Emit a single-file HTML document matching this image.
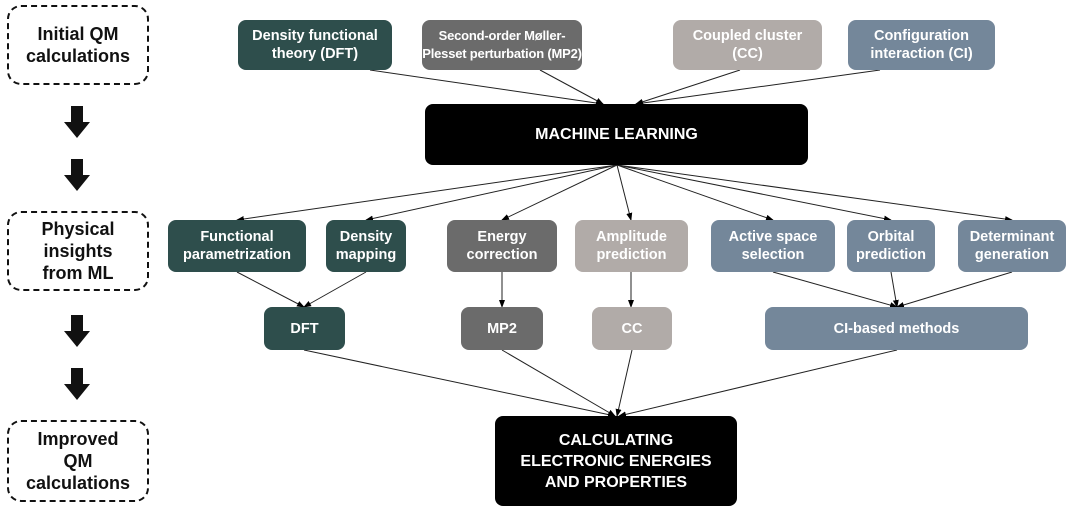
<!DOCTYPE html>
<html><head><meta charset="utf-8"><style>
body{margin:0;width:1080px;height:512px;background:#fff;position:relative;overflow:hidden;font-family:"Liberation Sans",Arial,sans-serif;font-weight:bold}
.b{position:absolute;border-radius:8px;color:#fff;display:flex;align-items:center;justify-content:center;text-align:center;font-size:14.5px;line-height:18px}
.t{background:#2e4e4c}.g{background:#6b6b6b}.l{background:#b1aba8}.s{background:#74879a}.k{background:#000;font-size:16px;line-height:21px}
.d{position:absolute;left:7px;width:138px;border:2.5px dashed #111;border-radius:14px;color:#111;font-size:18px;line-height:22px;display:flex;align-items:center;justify-content:center;text-align:center}
svg{position:absolute;left:0;top:0}
</style></head><body>
<svg width="1080" height="512">
<defs><marker id="a" markerWidth="8" markerHeight="8" refX="7" refY="4" orient="auto" markerUnits="userSpaceOnUse"><path d="M0,1 L8,4 L0,7z" fill="#000"/></marker></defs>
<g stroke="#222" stroke-width="1" fill="none" marker-end="url(#a)">
<line x1="370" y1="70" x2="603" y2="104"/><line x1="540" y1="70" x2="603" y2="104"/>
<line x1="740" y1="70" x2="636" y2="104"/><line x1="880" y1="70" x2="636" y2="104"/>
<line x1="617" y1="165" x2="237" y2="220"/><line x1="617" y1="165" x2="366" y2="220"/>
<line x1="617" y1="165" x2="502" y2="220"/><line x1="617" y1="165" x2="631" y2="220"/>
<line x1="617" y1="165" x2="773" y2="220"/><line x1="617" y1="165" x2="891" y2="220"/>
<line x1="617" y1="165" x2="1012" y2="220"/>
<line x1="237" y1="272" x2="304" y2="307"/><line x1="366" y1="272" x2="304" y2="307"/>
<line x1="502" y1="272" x2="502" y2="307"/><line x1="631" y1="272" x2="631" y2="307"/>
<line x1="773" y1="272" x2="897" y2="307"/><line x1="891" y1="272" x2="897" y2="307"/><line x1="1012" y1="272" x2="897" y2="307"/>
<line x1="304" y1="350" x2="615" y2="416"/><line x1="502" y1="350" x2="615" y2="416"/>
<line x1="632" y1="350" x2="617" y2="416"/><line x1="897" y1="350" x2="619" y2="416"/>
</g>
<g fill="#111">
<path d="M71,106h12v16h7l-13,16l-13,-16h7z"/><path d="M71,159h12v16h7l-13,16l-13,-16h7z"/>
<path d="M71,315h12v16h7l-13,16l-13,-16h7z"/><path d="M71,368h12v16h7l-13,16l-13,-16h7z"/>
</g>
</svg>
<div class="d" style="top:5px;height:76px">Initial QM<br>calculations</div>
<div class="d" style="top:211px;height:76px">Physical<br>insights<br>from ML</div>
<div class="d" style="top:420px;height:78px">Improved<br>QM<br>calculations</div>
<div class="b t" style="left:238px;top:20px;width:154px;height:50px">Density functional<br>theory (DFT)</div>
<div class="b g" style="left:422px;top:20px;width:160px;height:50px;font-size:13px;letter-spacing:-0.2px;white-space:nowrap">Second-order Møller-<br>Plesset perturbation (MP2)</div>
<div class="b l" style="left:673px;top:20px;width:149px;height:50px">Coupled cluster<br>(CC)</div>
<div class="b s" style="left:848px;top:20px;width:147px;height:50px">Configuration<br>interaction (CI)</div>
<div class="b k" style="left:425px;top:104px;width:383px;height:61px">MACHINE LEARNING</div>
<div class="b t" style="left:168px;top:220px;width:138px;height:52px">Functional<br>parametrization</div>
<div class="b t" style="left:326px;top:220px;width:80px;height:52px">Density<br>mapping</div>
<div class="b g" style="left:447px;top:220px;width:110px;height:52px">Energy<br>correction</div>
<div class="b l" style="left:575px;top:220px;width:113px;height:52px">Amplitude<br>prediction</div>
<div class="b s" style="left:711px;top:220px;width:124px;height:52px">Active space<br>selection</div>
<div class="b s" style="left:847px;top:220px;width:88px;height:52px">Orbital<br>prediction</div>
<div class="b s" style="left:958px;top:220px;width:108px;height:52px">Determinant<br>generation</div>
<div class="b t" style="left:264px;top:307px;width:81px;height:43px">DFT</div>
<div class="b g" style="left:461px;top:307px;width:82px;height:43px">MP2</div>
<div class="b l" style="left:592px;top:307px;width:80px;height:43px">CC</div>
<div class="b s" style="left:765px;top:307px;width:263px;height:43px">CI-based methods</div>
<div class="b k" style="left:495px;top:416px;width:242px;height:90px">CALCULATING<br>ELECTRONIC ENERGIES<br>AND PROPERTIES</div>
</body></html>
